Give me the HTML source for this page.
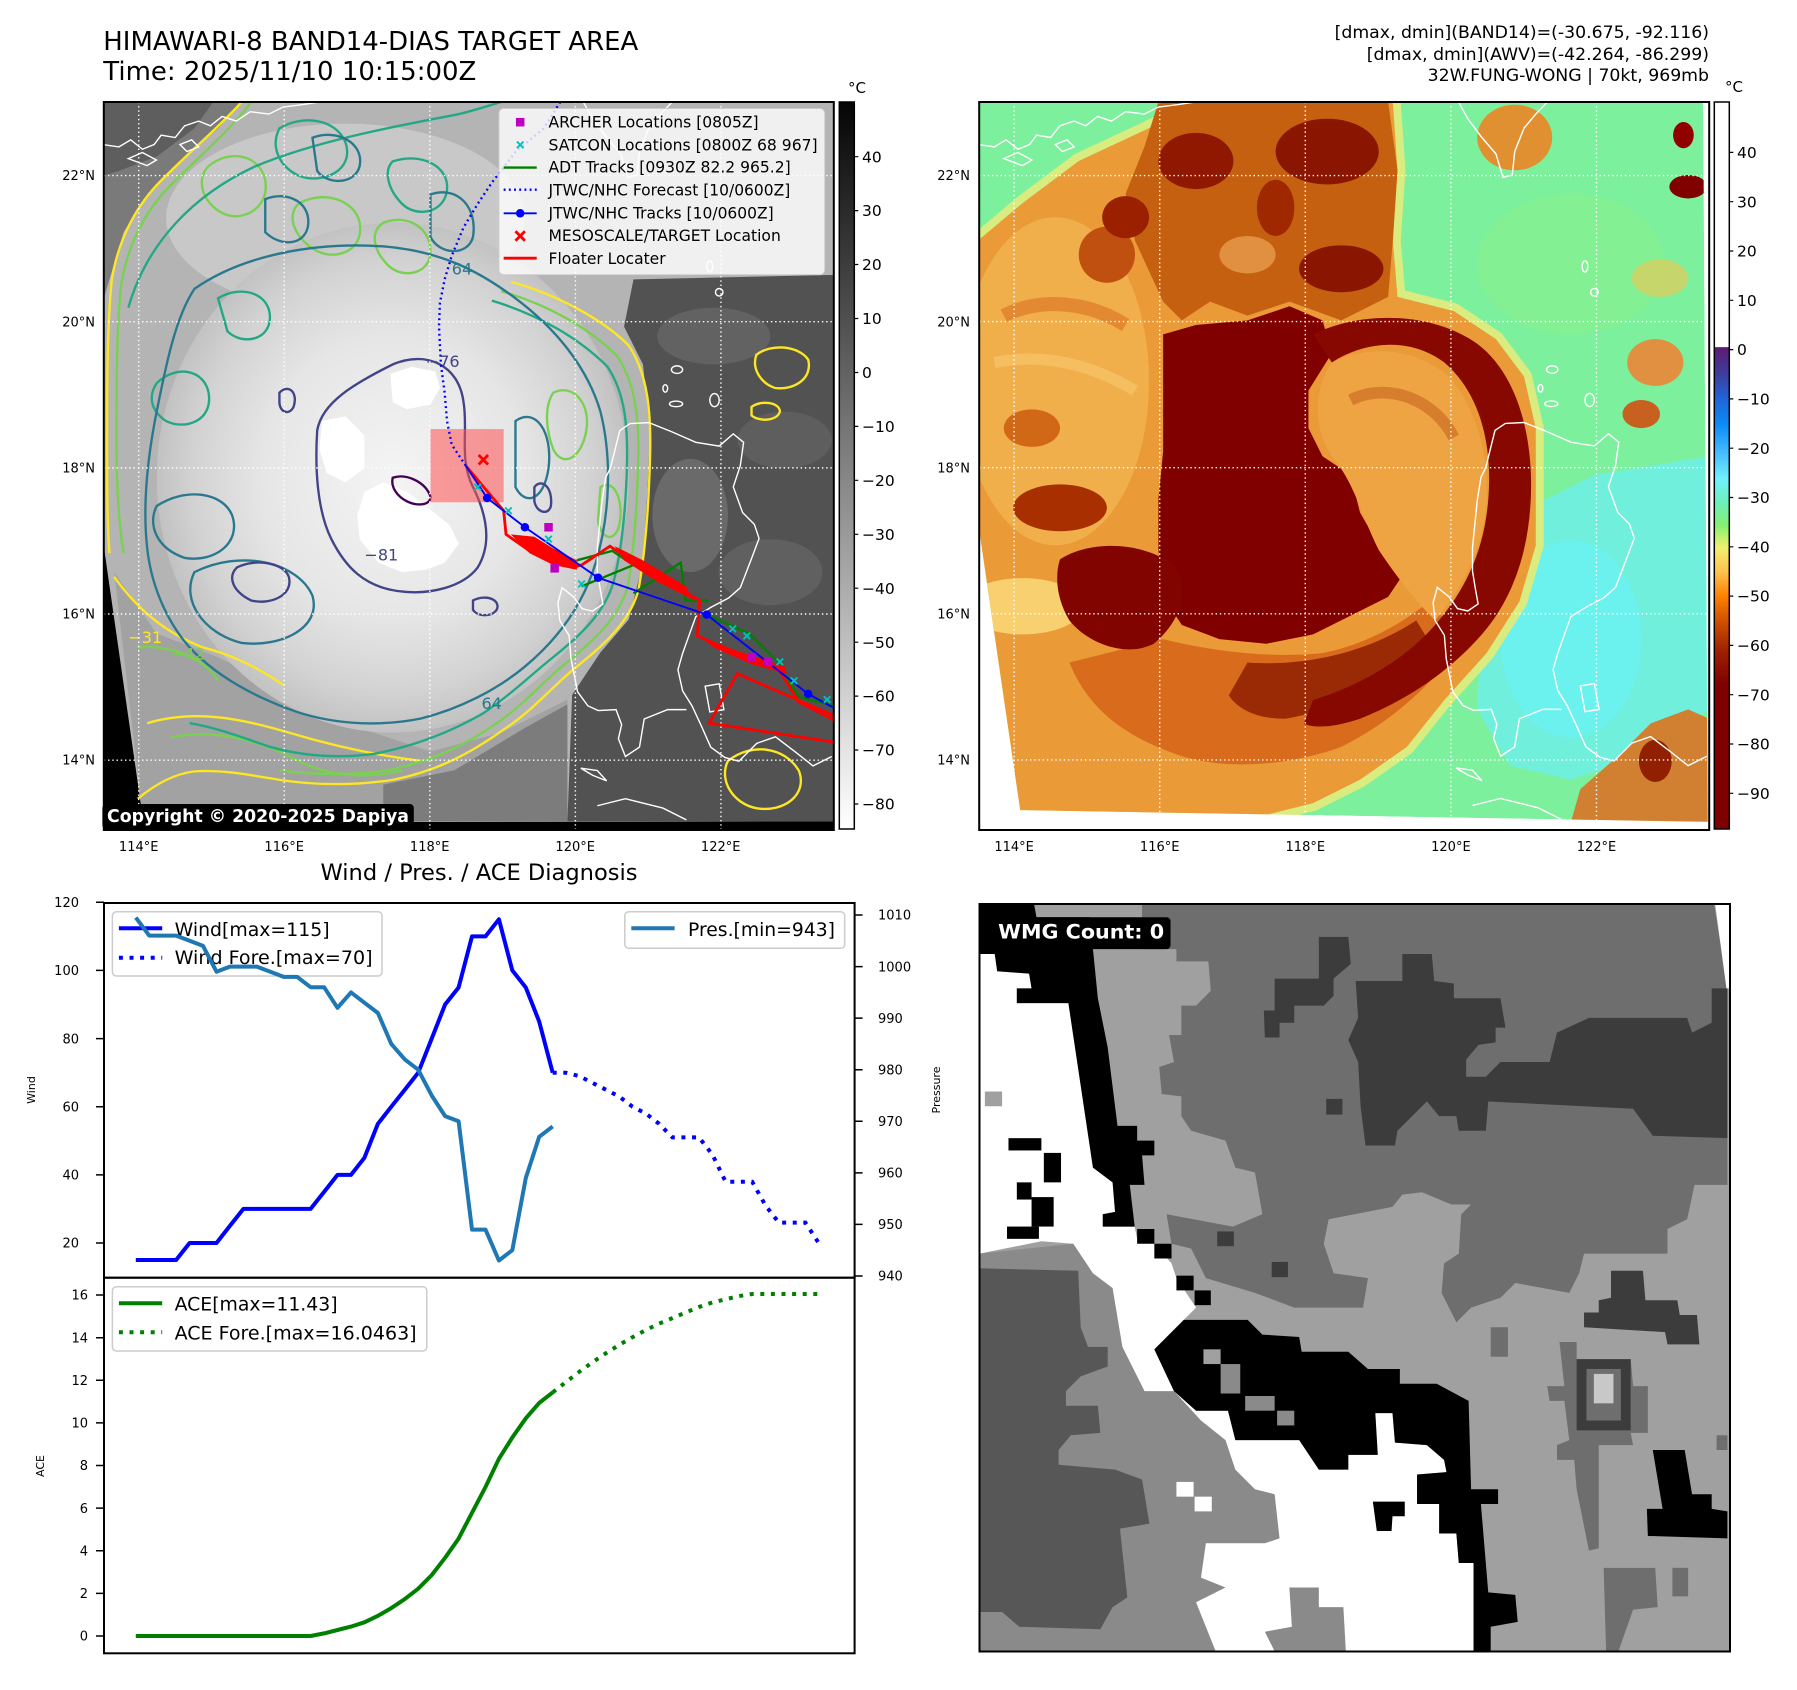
<!DOCTYPE html>
<html><head><meta charset="utf-8">
<style>
html,body{margin:0;padding:0;background:#fff;}
svg{display:block;}
text{font-family:"DejaVu Sans","Liberation Sans",sans-serif;}
</style></head><body>
<svg xmlns="http://www.w3.org/2000/svg" xmlns:xlink="http://www.w3.org/1999/xlink" width="1797" height="1690" viewBox="0 0 1797 1690">
<defs>
<linearGradient id="gL" x1="0" y1="0" x2="0" y2="1"><stop offset="0" stop-color="#050505"/><stop offset="1" stop-color="#ffffff"/></linearGradient>
<linearGradient id="gR" x1="0" y1="0" x2="0" y2="1">
<stop offset="0" stop-color="#ffffff"/><stop offset="0.337" stop-color="#ffffff"/>
<stop offset="0.3375" stop-color="#5e1a73"/><stop offset="0.3758" stop-color="#3b3f9f"/>
<stop offset="0.4096" stop-color="#1f66d9"/><stop offset="0.4434" stop-color="#0b8cf6"/>
<stop offset="0.4773" stop-color="#3fb5ff"/><stop offset="0.5179" stop-color="#70f0ff"/>
<stop offset="0.5516" stop-color="#6cf0b8"/><stop offset="0.5821" stop-color="#84f070"/>
<stop offset="0.6126" stop-color="#f0f070"/><stop offset="0.6464" stop-color="#ffc24f"/>
<stop offset="0.6802" stop-color="#ff8000"/><stop offset="0.7141" stop-color="#d05000"/>
<stop offset="0.7547" stop-color="#a02000"/><stop offset="0.8021" stop-color="#7f0000"/>
<stop offset="1" stop-color="#7f0000"/>
</linearGradient>
<radialGradient id="stormG" cx="0.5" cy="0.5" r="0.5">
<stop offset="0" stop-color="#f4f4f4"/><stop offset="0.55" stop-color="#e6e6e6"/><stop offset="0.85" stop-color="#d2d2d2"/><stop offset="1" stop-color="#c2c2c2"/>
</radialGradient>
<clipPath id="cTL"><rect x="8" y="4" width="1547" height="1543"/></clipPath>
<clipPath id="cTR"><rect x="-12.4" y="4.3" width="1557.4" height="1552.7"/></clipPath>
<clipPath id="cTRimg"><polygon points="-15,4 1532,4 1542,1540 75,1515 -15,900"/></clipPath>
<clipPath id="cBR"><rect x="-1" y="8" width="1528" height="1522"/></clipPath>
<g id="coast" fill="none" stroke="#ffffff" stroke-width="3">
<path d="M -15,95 L 20,100 L 45,85 L 70,105 L 95,95 L 110,75 L 140,80 L 160,55 L 190,45 L 215,55 L 240,35 L 270,45 L 300,25 L 340,30 L 370,15 L 410,10 L 450,4"/>
<path d="M 40,125 L 70,112 L 100,128 L 80,140 Z M 150,95 L 175,85 L 190,100 L 165,110 Z"/>
<path d="M 1010,4 L 1030,40 L 1060,80 L 1090,115 L 1105,165 L 1125,160 L 1130,110 L 1150,60 L 1175,30 L 1200,4"/>
<path d="M 1110,690 L 1150,688 L 1200,708 L 1250,730 L 1300,738 L 1330,712 L 1352,730 L 1345,780 L 1330,825 L 1350,880 L 1375,905 L 1385,935 L 1370,975 L 1345,1040 L 1320,1062 L 1282,1082 L 1250,1102 L 1238,1135 L 1222,1180 L 1212,1215 L 1222,1260 L 1242,1292 L 1262,1335 L 1282,1380 L 1312,1402 L 1342,1410 L 1380,1372 L 1420,1358 L 1462,1390 L 1500,1420 L 1540,1400"/>
<path d="M 1110,690 L 1088,705 L 1078,745 L 1068,785 L 1058,805 L 1050,855 L 1045,905 L 1040,955 L 1040,1005 L 1046,1042 L 1052,1075 L 1030,1090 L 1008,1085 L 990,1060 L 965,1040 L 956,1072 L 960,1110 L 980,1142 L 984,1192 L 998,1262 L 1020,1292 L 1042,1302 L 1080,1300 L 1092,1332 L 1085,1362 L 1100,1400 L 1130,1380 L 1140,1320 L 1190,1300 L 1230,1300"/>
<path d="M 1005,1425 L 1030,1440 L 1060,1452 L 1040,1430 Z M 1040,1505 L 1100,1490 L 1180,1510 L 1230,1535 M 1270,1250 L 1300,1245 L 1310,1300 L 1280,1305 Z"/>
<ellipse cx="1210" cy="575" rx="12" ry="8"/><ellipse cx="1208" cy="648" rx="14" ry="6"/><ellipse cx="1290" cy="640" rx="10" ry="14"/><ellipse cx="1280" cy="355" rx="6" ry="12"/><ellipse cx="1300" cy="410" rx="8" ry="8"/><ellipse cx="1185" cy="615" rx="5" ry="8"/>
</g>
</defs>

<!-- Titles -->
<text x="103.3" y="50" font-size="25.5" textLength="535" lengthAdjust="spacingAndGlyphs">HIMAWARI-8 BAND14-DIAS TARGET AREA</text>
<text x="103.3" y="80" font-size="25.5" textLength="373" lengthAdjust="spacingAndGlyphs">Time: 2025/11/10 10:15:00Z</text>
<text x="1709" y="38" font-size="17.3" text-anchor="end">[dmax, dmin](BAND14)=(-30.675, -92.116)</text>
<text x="1709" y="60" font-size="17.3" text-anchor="end">[dmax, dmin](AWV)=(-42.264, -86.299)</text>
<text x="1709" y="81" font-size="17.3" text-anchor="end">32W.FUNG-WONG | 70kt, 969mb</text>

<!-- ============ TOP-LEFT MAP ============ -->
<svg x="100" y="100" width="740.3" height="740.3" viewBox="0 0 1568 1568">
<g clip-path="url(#cTL)">
<rect x="0" y="0" width="1568" height="1568" fill="#000"/>
<polygon points="8,4 1560,4 1560,1528 92,1530 8,945" fill="#b4b4b4"/>
<polygon points="8,4 300,4 250,60 180,120 100,200 50,280 20,380 8,420" fill="#7a7a7a"/>
<polygon points="8,4 240,4 200,60 120,120 40,150 8,160" fill="#5e5e5e"/>
<ellipse cx="520" cy="250" rx="380" ry="200" fill="#c8c8c8"/>
<polygon points="30,1000 120,1130 250,1180 400,1260 550,1330 700,1380 850,1340 990,1270 990,1528 92,1530" fill="#a2a2a2"/>
<polygon points="600,1450 750,1420 900,1330 990,1280 990,1528 600,1528" fill="#7c7c7c"/>
<polygon points="1130,380 1568,370 1568,1528 990,1528 1000,1260 1060,1170 1120,1100 1150,980 1160,820 1165,700 1150,560 1110,480" fill="#525252"/>
<ellipse cx="1250" cy="880" rx="80" ry="120" fill="#6a6a6a"/>
<ellipse cx="1450" cy="720" rx="100" ry="60" fill="#5e5e5e"/>
<ellipse cx="1300" cy="500" rx="120" ry="60" fill="#626262"/>
<ellipse cx="1420" cy="1000" rx="110" ry="70" fill="#606060"/>
<ellipse cx="620" cy="800" rx="500" ry="540" fill="url(#stormG)"/>
<polygon points="560,830 600,810 650,830 690,860 740,900 760,940 730,980 690,995 640,1000 590,980 550,930 545,880" fill="#fff"/>
<polygon points="470,680 520,670 560,710 560,780 520,810 480,790 465,740" fill="#fff"/>
<polygon points="615,580 660,565 710,575 720,610 700,645 650,655 620,640" fill="#fff"/>
<!-- contours -->
<g fill="none" stroke-width="5">
<g stroke="#fde725">
<path d="M 870,385 C 960,410 1060,460 1120,520 C 1160,580 1168,660 1165,760 C 1162,860 1155,960 1140,1040 C 1120,1110 1060,1160 1010,1200 C 960,1240 920,1290 860,1330 C 790,1380 720,1420 620,1440 C 540,1452 460,1452 380,1440 C 320,1430 260,1418 200,1422 C 150,1428 110,1455 80,1480"/>
<path d="M 300,4 C 260,50 200,100 130,170 C 80,220 40,290 25,380 C 15,480 15,600 15,720 C 15,820 15,900 20,960"/>
<path d="M 30,1010 C 80,1080 140,1130 220,1160 C 280,1175 330,1200 390,1240"/>
<path d="M 100,1320 C 200,1290 300,1310 400,1340 C 500,1370 600,1390 680,1400"/>
<path d="M 1390,540 C 1420,515 1480,520 1500,550 C 1510,590 1470,615 1430,610 C 1400,600 1380,570 1390,540 Z M 1380,650 C 1400,635 1440,640 1440,660 C 1435,680 1395,682 1380,668 Z"/>
<path d="M 1330,1400 C 1380,1360 1450,1370 1480,1420 C 1500,1470 1450,1510 1390,1500 C 1340,1490 1310,1440 1330,1400 Z"/>
</g>
<g stroke="#7ad151">
<path d="M 850,405 C 945,432 1035,482 1095,542 C 1135,600 1142,680 1140,760 C 1138,860 1130,960 1118,1030 C 1098,1100 1040,1150 990,1190 C 940,1230 900,1280 840,1320 C 770,1370 700,1400 610,1420 C 530,1430 460,1430 380,1420"/>
<path d="M 320,4 C 280,60 220,110 150,180 C 100,230 60,300 45,390 C 35,480 35,600 35,720 C 35,820 40,900 50,960"/>
<path d="M 230,140 C 280,100 340,120 350,170 C 360,230 300,260 260,240 C 220,220 200,170 230,140 Z"/>
<path d="M 420,220 C 470,190 540,210 550,260 C 560,320 500,340 460,320 C 420,300 390,250 420,220 Z"/>
<path d="M 600,260 C 650,240 700,270 700,320 C 700,370 640,380 610,350 C 580,320 570,280 600,260 Z"/>
<path d="M 960,620 C 1000,600 1040,640 1030,700 C 1020,760 980,780 960,740 C 945,700 940,650 960,620 Z"/>
<path d="M 1060,820 C 1090,800 1110,850 1100,900 C 1090,940 1060,930 1055,890 Z"/>
<path d="M 80,1160 C 150,1150 230,1190 250,1230"/>
<path d="M 150,1350 C 250,1330 350,1360 420,1400 C 480,1430 560,1440 640,1420"/>
</g>
<g stroke="#22a884">
<path d="M 830,425 C 930,455 1015,505 1075,565 C 1115,625 1118,700 1116,780 C 1113,880 1103,960 1088,1020 C 1068,1090 1010,1140 960,1180 C 910,1220 870,1260 810,1300 C 740,1340 660,1370 580,1385 C 500,1395 430,1390 360,1370 C 300,1350 250,1330 190,1320"/>
<path d="M 60,440 C 100,300 200,200 330,140 C 450,90 600,60 760,30 C 800,20 830,10 850,4"/>
<path d="M 380,60 C 430,30 500,40 520,90 C 540,150 470,180 420,160 C 380,140 360,100 380,60 Z"/>
<path d="M 120,600 C 160,560 220,570 230,620 C 240,680 180,700 140,680 C 110,660 100,630 120,600 Z"/>
<path d="M 250,420 C 300,390 360,410 360,460 C 360,510 300,520 270,490 Z"/>
<path d="M 620,130 C 680,110 740,140 735,190 C 730,240 670,250 640,220 C 610,190 600,150 620,130 Z"/>
</g>
<g stroke="#2a788e">
<path d="M 200,400 C 300,330 450,300 600,310 C 720,320 800,360 880,420 C 960,480 1030,560 1060,660 C 1085,760 1080,880 1050,980 C 1020,1080 960,1150 900,1200 C 840,1250 760,1290 680,1310 C 580,1330 480,1320 400,1290 C 320,1260 250,1220 200,1170 C 150,1120 110,1040 100,950 C 90,860 100,760 120,660 C 140,560 160,460 200,400 Z"/>
<path d="M 350,210 C 400,190 450,220 440,270 C 430,310 380,310 350,280 Z M 450,80 C 500,60 560,90 550,140 C 540,180 480,180 460,150 Z"/>
<path d="M 120,860 C 180,820 260,830 280,880 C 300,940 240,980 180,970 C 120,950 100,900 120,860 Z"/>
<path d="M 200,1000 C 300,950 420,980 450,1050 C 470,1120 380,1160 300,1150 C 220,1130 170,1060 200,1000 Z"/>
<path d="M 700,200 C 760,180 800,230 790,290 C 780,330 720,330 700,290 Z M 880,680 C 920,650 960,700 950,780 C 940,850 900,860 880,820 Z"/>
</g>
<g stroke="#414487">
<path d="M 460,700 C 470,640 540,600 620,560 C 690,530 760,560 770,640 C 780,700 760,760 790,820 C 820,880 830,940 800,990 C 770,1030 700,1050 630,1040 C 560,1030 520,990 490,930 C 460,870 455,780 460,700 Z"/>
<path d="M 290,990 C 330,970 390,980 400,1010 C 410,1050 360,1070 320,1060 C 280,1040 270,1010 290,990 Z M 790,1060 C 820,1045 850,1060 840,1080 C 830,1095 800,1095 790,1080 Z M 920,820 C 935,800 960,820 955,860 C 950,880 925,875 920,850 Z M 380,620 C 400,600 420,620 410,650 C 400,670 380,660 380,640 Z"/>
</g>
<g stroke="#440154">
<path d="M 620,800 C 650,790 690,810 700,840 C 700,860 670,860 650,850 C 630,840 615,820 620,800 Z"/>
</g>
</g>
<g font-size="34">
<text x="745" y="370" fill="#2a788e">64</text>
<text x="808" y="1290" fill="#2a788e">64</text>
<text x="560" y="975" fill="#414487">−81</text>
<text x="690" y="565" fill="#414487">−76</text>
<text x="60" y="1150" fill="#fde725">−31</text>
<text x="150" y="1185" fill="#7ad151">−42</text>
</g>
<use xlink:href="#coast" href="#coast" transform="matrix(0.99324 0 0 0.99324 20.3 0)"/>
<!-- grid -->
<g stroke="#fff" stroke-width="3" stroke-dasharray="3 6" fill="none">
<path d="M82,4 V1547 M390.3,4 V1547 M698.6,4 V1547 M1006.9,4 V1547 M1315.2,4 V1547"/>
<path d="M8,160 H1555 M8,469.6 H1555 M8,779.2 H1555 M8,1088.7 H1555 M8,1398.3 H1555"/>
</g>
<!-- tracks -->
<rect x="700" y="697" width="155" height="155" fill="#ff5050" fill-opacity="0.55"/>
<polyline points="975,4 940,60 880,110 830,175 800,220 770,270 745,330 730,380 720,430 718,480 720,520 722,560 730,620 735,680 745,730 775,775" fill="none" stroke="#0000ff" stroke-width="5" stroke-dasharray="4 7"/>
<g fill="none" stroke="#008000" stroke-width="5">
<path d="M1010,975 L1085,955 L1130,985 L1020,1030 M1130,1045 L1230,980 L1240,1060 L1290,1060 M1285,1090 L1375,1130 L1435,1190 L1480,1265 L1568,1285"/>
</g>
<g fill="#ff0000" stroke="none">
<polygon points="870,920 920,925 960,950 1010,975 1010,995 960,985 910,960"/>
<polygon points="1090,945 1150,975 1240,1030 1260,1060 1180,1020 1110,975"/>
<polygon points="1270,1135 1330,1160 1450,1200 1455,1215 1380,1195 1300,1160"/>
</g>
<g fill="none" stroke="#ff0000" stroke-width="6">
<polyline points="775,775 855,870 860,920 910,955 1000,990 1020,985 1080,945 1140,985 1270,1060 1265,1135 1370,1180 1440,1210 1480,1275 1568,1320"/>
<path d="M1568,1362 L1290,1320 L1350,1215 L1568,1310"/>
</g>
<polyline points="775,775 820,843 900,905 1055,1012 1285,1090 1500,1258 1568,1295" fill="none" stroke="#0000ff" stroke-width="4"/>
<g fill="#0000ff"><circle cx="820" cy="843" r="9"/><circle cx="900" cy="905" r="9"/><circle cx="1055" cy="1012" r="9"/><circle cx="1285" cy="1090" r="9"/><circle cx="1500" cy="1258" r="9"/></g>
<g stroke="#00c0c0" stroke-width="4">
<path d="M793,813 l14,14 m0,-14 l-14,14 M858,863 l14,14 m0,-14 l-14,14 M943,923 l14,14 m0,-14 l-14,14 M1013,1018 l14,14 m0,-14 l-14,14 M1333,1113 l14,14 m0,-14 l-14,14 M1363,1128 l14,14 m0,-14 l-14,14 M1433,1183 l14,14 m0,-14 l-14,14 M1463,1223 l14,14 m0,-14 l-14,14 M1533,1263 l14,14 m0,-14 l-14,14"/>
</g>
<g fill="#c000c0"><rect x="941" y="896" width="18" height="18"/><rect x="954" y="983" width="18" height="18"/><rect x="1371" y="1171" width="18" height="18"/><rect x="1406" y="1181" width="18" height="18"/></g>
<path d="M802,752 l20,20 m0,-20 l-20,20" stroke="#ff0000" stroke-width="6"/>
<!-- legend -->
<rect x="845" y="18" width="690" height="352" rx="10" fill="#ffffff" fill-opacity="0.8" stroke="#cccccc" stroke-width="2"/>
<rect x="881" y="38" width="18" height="18" fill="#c000c0"/>
<path d="M883,88 l14,14 m0,-14 l-14,14" stroke="#00c0c0" stroke-width="4"/>
<line x1="855" y1="143" x2="925" y2="143" stroke="#008000" stroke-width="5"/>
<line x1="855" y1="190" x2="925" y2="190" stroke="#0000ff" stroke-width="5" stroke-dasharray="4 7"/>
<line x1="855" y1="240" x2="925" y2="240" stroke="#0000ff" stroke-width="4"/><circle cx="890" cy="240" r="9" fill="#0000ff"/>
<path d="M880,278 l20,20 m0,-20 l-20,20" stroke="#ff0000" stroke-width="6"/>
<line x1="855" y1="335" x2="925" y2="335" stroke="#ff0000" stroke-width="6"/>
<g font-size="34" fill="#000">
<text x="950" y="58" textLength="445" lengthAdjust="spacingAndGlyphs">ARCHER Locations [0805Z]</text>
<text x="950" y="107" textLength="570" lengthAdjust="spacingAndGlyphs">SATCON Locations [0800Z 68 967]</text>
<text x="950" y="154" textLength="513" lengthAdjust="spacingAndGlyphs">ADT Tracks [0930Z 82.2 965.2]</text>
<text x="950" y="202" textLength="512" lengthAdjust="spacingAndGlyphs">JTWC/NHC Forecast [10/0600Z]</text>
<text x="950" y="251" textLength="477" lengthAdjust="spacingAndGlyphs">JTWC/NHC Tracks [10/0600Z]</text>
<text x="950" y="299" textLength="492" lengthAdjust="spacingAndGlyphs">MESOSCALE/TARGET Location</text>
<text x="950" y="347" textLength="248" lengthAdjust="spacingAndGlyphs">Floater Locater</text>
</g>
</g>
</svg>
<rect x="103.8" y="102" width="730" height="728" fill="none" stroke="#000" stroke-width="2"/>
<rect x="102.4" y="804" width="311.4" height="25.5" rx="4" fill="#000"/>
<text x="107" y="822" font-size="18" font-weight="bold" fill="#fff" textLength="302" lengthAdjust="spacingAndGlyphs">Copyright © 2020-2025 Dapiya</text>

<!-- left colorbar -->
<rect x="839.3" y="102" width="15" height="727" fill="url(#gL)" stroke="#000" stroke-width="1.5"/>
<text x="848" y="93" font-size="15">°C</text>
<g stroke="#000" stroke-width="1.2">
<path d="M854.3,156.7 h4 M854.3,210.6 h4 M854.3,264.5 h4 M854.3,318.5 h4 M854.3,372.5 h4 M854.3,426.4 h4 M854.3,480.3 h4 M854.3,534.3 h4 M854.3,588.2 h4 M854.3,642.2 h4 M854.3,696.1 h4 M854.3,750 h4 M854.3,804 h4"/>
</g>
<g font-size="15.5">
<text x="862" y="162.3">40</text><text x="862" y="216.2">30</text><text x="862" y="270.1">20</text><text x="862" y="324.1">10</text><text x="862" y="378.1">0</text>
<text x="862" y="432">−10</text><text x="862" y="485.9">−20</text><text x="862" y="539.9">−30</text><text x="862" y="593.8">−40</text><text x="862" y="647.8">−50</text>
<text x="862" y="701.7">−60</text><text x="862" y="755.6">−70</text><text x="862" y="809.6">−80</text>
</g>

<!-- map axis labels -->
<g font-size="13" text-anchor="end">
<text x="95" y="180.2">22°N</text><text x="95" y="326.3">20°N</text><text x="95" y="472.4">18°N</text><text x="95" y="618.5">16°N</text><text x="95" y="764.6">14°N</text>
<text x="970" y="180.2">22°N</text><text x="970" y="326.3">20°N</text><text x="970" y="472.4">18°N</text><text x="970" y="618.5">16°N</text><text x="970" y="764.6">14°N</text>
</g>
<g font-size="13" text-anchor="middle">
<text x="138.7" y="851">114°E</text><text x="284.2" y="851">116°E</text><text x="429.7" y="851">118°E</text><text x="575.2" y="851">120°E</text><text x="720.7" y="851">122°E</text>
<text x="1014.1" y="851">114°E</text><text x="1159.7" y="851">116°E</text><text x="1305.3" y="851">118°E</text><text x="1450.9" y="851">120°E</text><text x="1596.5" y="851">122°E</text>
</g>

<!-- ============ TOP-RIGHT MAP ============ -->
<svg x="985" y="100" width="735" height="735" viewBox="0 0 1568 1568" overflow="visible">
<g clip-path="url(#cTR)">
<rect x="-20" y="0" width="1600" height="1570" fill="#fff"/>
<g clip-path="url(#cTRimg)">
<polygon points="-15,4 1532,4 1542,1540 75,1515 -15,900" fill="#7cf09c"/>
<polygon points="1100,900 1300,800 1545,760 1545,1300 1400,1400 1250,1450 1120,1420 1050,1300 1060,1100" fill="#70f0dc"/>
<ellipse cx="1250" cy="1150" rx="150" ry="210" fill="#6cf2f2" fill-opacity="0.8"/>
<ellipse cx="1250" cy="350" rx="200" ry="150" fill="#88f090" fill-opacity="0.6"/>
<path d="M -15,300 L 80,220 L 200,130 L 350,60 L 460,4 L 870,4 L 880,150 L 870,300 L 880,420 L 1000,450 L 1090,510 L 1150,590 L 1175,700 L 1175,950 L 1140,1070 L 1070,1180 L 980,1280 L 900,1380 L 800,1450 L 700,1500 L 600,1525 L 75,1515 L -15,900 Z" fill="#eb9a38" stroke="#d8ec80" stroke-width="34" stroke-linejoin="round" paint-order="stroke"/>
<ellipse cx="150" cy="600" rx="200" ry="350" fill="#f3b450" fill-opacity="0.8"/>
<ellipse cx="80" cy="1080" rx="130" ry="60" fill="#f8d070"/>
<ellipse cx="160" cy="870" rx="100" ry="50" fill="#a83000"/>
<ellipse cx="260" cy="330" rx="60" ry="60" fill="#c05010"/>
<ellipse cx="100" cy="700" rx="60" ry="40" fill="#d06818"/>
<path d="M 40,460 C 120,420 220,430 300,480" fill="none" stroke="#d87020" stroke-width="30" stroke-opacity="0.6"/>
<path d="M 20,560 C 120,540 220,560 320,620" fill="none" stroke="#f8c870" stroke-width="24" stroke-opacity="0.6"/>
<path d="M 380,1150 C 500,1180 620,1190 720,1180 C 820,1160 900,1110 960,1060 L 1000,1180 C 940,1260 860,1330 760,1380 C 650,1420 520,1430 420,1400 C 300,1360 220,1300 180,1200 Z" fill="#d86c1c"/>
<path d="M 560,1200 C 700,1210 830,1170 920,1110 L 950,1160 C 870,1240 760,1300 640,1320 C 580,1320 540,1300 520,1270 Z" fill="#9a2a05"/>
<polygon points="370,4 860,4 880,150 870,300 860,420 760,470 650,430 560,460 480,430 420,470 380,430 320,300 300,200 340,100" fill="#c4600f"/>
<ellipse cx="450" cy="130" rx="80" ry="60" fill="#901800"/>
<ellipse cx="730" cy="110" rx="110" ry="70" fill="#8a1500"/>
<ellipse cx="300" cy="250" rx="50" ry="45" fill="#9a2000"/>
<ellipse cx="760" cy="360" rx="90" ry="50" fill="#8a1500"/>
<ellipse cx="620" cy="230" rx="40" ry="60" fill="#a02800"/>
<ellipse cx="560" cy="330" rx="60" ry="40" fill="#e09040"/>
<polygon points="380,500 450,480 560,470 650,440 720,470 740,540 690,620 690,700 720,760 780,800 800,880 840,950 900,1000 860,1060 780,1100 700,1140 600,1160 500,1150 420,1120 380,1060 370,960 370,850 380,750 380,620" fill="#800000"/>
<path d="M 700,500 C 800,450 950,450 1050,520 C 1130,580 1165,700 1165,820 C 1165,950 1130,1060 1060,1140 C 990,1220 900,1280 800,1320 C 740,1340 700,1340 680,1330 L 700,1280 C 800,1250 900,1190 960,1120 C 1030,1040 1070,950 1075,830 C 1080,720 1050,620 980,560 C 900,500 800,520 740,560 Z" fill="#860800"/>
<path d="M 740,560 C 820,520 920,530 990,590 C 1050,660 1075,760 1070,860 C 1060,960 1020,1040 960,1110 C 920,1070 880,1020 840,960 C 800,880 790,820 740,760 C 700,700 700,620 740,560 Z" fill="#efa444"/>
<path d="M 780,640 C 860,600 960,640 1000,720" fill="none" stroke="#c05818" stroke-width="25" stroke-opacity="0.5"/>
<path d="M 160,980 C 220,940 330,940 400,990 C 440,1040 420,1110 360,1160 C 300,1190 220,1160 180,1110 C 150,1060 150,1010 160,980 Z" fill="#820400"/>
<polygon points="1250,1540 1270,1470 1350,1400 1420,1330 1500,1300 1545,1320 1545,1540" fill="#d08030"/>
<ellipse cx="1430" cy="1410" rx="35" ry="45" fill="#902000"/>
<ellipse cx="1500" cy="185" rx="40" ry="25" fill="#800000"/>
<ellipse cx="1490" cy="75" rx="22" ry="28" fill="#900000"/>
<ellipse cx="1430" cy="560" rx="60" ry="50" fill="#e09040"/>
<ellipse cx="1400" cy="670" rx="40" ry="30" fill="#c86020"/>
<ellipse cx="1130" cy="80" rx="80" ry="70" fill="#e09030"/>
<ellipse cx="1440" cy="380" rx="60" ry="40" fill="#d8d060" fill-opacity="0.8"/>
</g>
<use xlink:href="#coast" href="#coast"/>
<g stroke="#fff" stroke-width="3" stroke-dasharray="3 6" fill="none">
<path d="M62.1,4 V1557 M372.7,4 V1557 M683.3,4 V1557 M993.9,4 V1557 M1304.5,4 V1557"/>
<path d="M-12,161.1 H1545 M-12,472.7 H1545 M-12,784.4 H1545 M-12,1096.1 H1545 M-12,1407.8 H1545"/>
</g>
</g>
</svg>
<rect x="979.2" y="102" width="730" height="728" fill="none" stroke="#000" stroke-width="2"/>

<!-- right colorbar -->
<rect x="1714.3" y="102" width="15" height="727" fill="url(#gR)" stroke="#000" stroke-width="1.5"/>
<text x="1725" y="92" font-size="15">°C</text>
<g stroke="#000" stroke-width="1.2">
<path d="M1729.3,152.4 h4 M1729.3,201.7 h4 M1729.3,251 h4 M1729.3,300.3 h4 M1729.3,349.6 h4 M1729.3,398.9 h4 M1729.3,448.2 h4 M1729.3,497.5 h4 M1729.3,546.8 h4 M1729.3,596.1 h4 M1729.3,645.4 h4 M1729.3,694.7 h4 M1729.3,744 h4 M1729.3,793.3 h4"/>
</g>
<g font-size="15.5">
<text x="1737" y="158">40</text><text x="1737" y="207.3">30</text><text x="1737" y="256.6">20</text><text x="1737" y="305.9">10</text><text x="1737" y="355.2">0</text>
<text x="1737" y="404.5">−10</text><text x="1737" y="453.8">−20</text><text x="1737" y="503.1">−30</text><text x="1737" y="552.4">−40</text><text x="1737" y="601.7">−50</text>
<text x="1737" y="651">−60</text><text x="1737" y="700.3">−70</text><text x="1737" y="749.6">−80</text><text x="1737" y="798.9">−90</text>
</g>

<!-- ============ BOTTOM-LEFT PLOTS ============ -->
<text x="479" y="880" font-size="22" text-anchor="middle" textLength="317" lengthAdjust="spacingAndGlyphs">Wind / Pres. / ACE Diagnosis</text>
<polyline fill="none" stroke="#0000ff" stroke-width="4" stroke-linejoin="round" points="135.8,1260 149.2,1260 162.7,1260 176.1,1260 189.6,1243 203,1243 216.5,1243 229.9,1225.9 243.4,1208.9 256.8,1208.9 270.3,1208.9 283.7,1208.9 297.2,1208.9 310.6,1208.9 324.1,1191.9 337.5,1174.9 351,1174.9 364.4,1157.8 377.9,1123.8 391.3,1106.7 404.8,1089.7 418.2,1072.7 431.7,1038.6 445.1,1004.5 458.6,987.5 472,936.4 485.5,936.4 498.9,919.3 512.3,970.4 525.8,987.5 539.2,1021.6 552.7,1072.7"/>
<polyline fill="none" stroke="#0000ff" stroke-width="4" stroke-dasharray="4 6.6" points="552.7,1072.7 566,1072.7 579.3,1076.1 592.6,1082.9 605.9,1089.7 619.2,1096.5 632.5,1106.7 645.8,1113.5 659.1,1123.8 672.4,1137.4 685.7,1137.4 699,1137.4 712.3,1154.4 725.6,1181.7 738.9,1181.7 752.2,1181.7 765.5,1205.5 778.8,1222.6 792.1,1222.6 805.4,1222.6 818.7,1243"/>
<rect x="112.4" y="911.7" width="269.6" height="64.3" rx="4" fill="#fff" fill-opacity="0.8" stroke="#cccccc" stroke-width="1.5"/>
<line x1="118.9" y1="928.3" x2="162.2" y2="928.3" stroke="#0000ff" stroke-width="4"/>
<line x1="118.9" y1="957.7" x2="162.2" y2="957.7" stroke="#0000ff" stroke-width="4" stroke-dasharray="4 6.6"/>
<text x="174.6" y="936" font-size="19" textLength="155" lengthAdjust="spacingAndGlyphs">Wind[max=115]</text>
<text x="174.6" y="964" font-size="19" textLength="198" lengthAdjust="spacingAndGlyphs">Wind Fore.[max=70]</text>
<polyline fill="none" stroke="#1f77b4" stroke-width="4" stroke-linejoin="round" points="135.8,917.6 149.2,935.6 162.7,935.6 176.1,935.6 189.6,940.8 203,945.9 216.5,971.7 229.9,966.6 243.4,966.6 256.8,966.6 270.3,971.7 283.7,976.9 297.2,976.9 310.6,987.2 324.1,987.2 337.5,1007.8 351,992.4 364.4,1002.7 377.9,1013 391.3,1043.9 404.8,1059.4 418.2,1069.7 431.7,1095.5 445.1,1116.1 458.6,1121.3 472,1229.6 485.5,1229.6 498.9,1260.5 512.3,1250.2 525.8,1178 539.2,1136.8 552.7,1126.4"/>
<rect x="624.8" y="911.7" width="219.9" height="36.6" rx="4" fill="#fff" fill-opacity="0.8" stroke="#cccccc" stroke-width="1.5"/>
<line x1="631.3" y1="928.3" x2="674.6" y2="928.3" stroke="#1f77b4" stroke-width="4"/>
<text x="688" y="936" font-size="19" textLength="147" lengthAdjust="spacingAndGlyphs">Pres.[min=943]</text>
<polyline fill="none" stroke="#008000" stroke-width="4" stroke-linejoin="round" points="135.8,1636 310.6,1636 324.1,1633.4 337.5,1630 351,1626.6 364.4,1622.3 377.9,1615.8 391.3,1608.1 404.8,1599.1 418.2,1588.7 431.7,1575.1 445.1,1557.8 458.6,1538.6 472,1512.8 485.5,1487 498.9,1458.8 512.3,1437.5 525.8,1418.3 539.2,1402.9 552.7,1392.4"/>
<polyline fill="none" stroke="#008000" stroke-width="4" stroke-dasharray="4 6.6" points="552.7,1392.4 566,1382 579.3,1371.8 592.6,1362.2 605.9,1353.2 619.2,1344.9 632.5,1337.2 645.8,1330 659.1,1323.6 672.4,1318.1 685.7,1312.5 699,1307 712.3,1302.5 725.6,1299.3 738.9,1296.1 752.2,1294 765.5,1294 778.8,1294 792.1,1294 805.4,1294 818.7,1294"/>
<rect x="112.4" y="1286.7" width="314.4" height="64.3" rx="4" fill="#fff" fill-opacity="0.8" stroke="#cccccc" stroke-width="1.5"/>
<line x1="118.9" y1="1303.3" x2="162.2" y2="1303.3" stroke="#008000" stroke-width="4"/>
<line x1="118.9" y1="1332.3" x2="162.2" y2="1332.3" stroke="#008000" stroke-width="4" stroke-dasharray="4 6.6"/>
<text x="174.6" y="1310.7" font-size="19" textLength="163" lengthAdjust="spacingAndGlyphs">ACE[max=11.43]</text>
<text x="174.6" y="1339.3" font-size="19" textLength="242" lengthAdjust="spacingAndGlyphs">ACE Fore.[max=16.0463]</text>
<rect x="104" y="903" width="750.6" height="374.7" fill="none" stroke="#000" stroke-width="2"/>
<rect x="104" y="1277.7" width="750.6" height="375.6" fill="none" stroke="#000" stroke-width="2"/>
<g stroke="#000" stroke-width="1.5">
<path d="M96,902.3 h8 M96,970.4 h8 M96,1038.6 h8 M96,1106.7 h8 M96,1174.9 h8 M96,1243 h8"/>
<path d="M854.6,915 h8 M854.6,966.6 h8 M854.6,1018.1 h8 M854.6,1069.7 h8 M854.6,1121.3 h8 M854.6,1172.9 h8 M854.6,1224.4 h8 M854.6,1276 h8"/>
<path d="M96,1295 h8 M96,1337.7 h8 M96,1380.3 h8 M96,1422.9 h8 M96,1465.5 h8 M96,1508.1 h8 M96,1550.8 h8 M96,1593.4 h8 M96,1636 h8"/>
</g>
<g font-size="13" text-anchor="end">
<text x="79" y="907">120</text><text x="79" y="975.1">100</text><text x="79" y="1043.3">80</text><text x="79" y="1111.4">60</text><text x="79" y="1179.6">40</text><text x="79" y="1247.7">20</text>
<text x="88" y="1299.7">16</text><text x="88" y="1342.4">14</text><text x="88" y="1385">12</text><text x="88" y="1427.6">10</text><text x="88" y="1470.2">8</text><text x="88" y="1512.8">6</text><text x="88" y="1555.5">4</text><text x="88" y="1598.1">2</text><text x="88" y="1640.7">0</text>
</g>
<g font-size="13">
<text x="878" y="919.7">1010</text><text x="878" y="971.3">1000</text><text x="878" y="1022.8">990</text><text x="878" y="1074.4">980</text><text x="878" y="1126">970</text><text x="878" y="1177.6">960</text><text x="878" y="1229.1">950</text><text x="878" y="1280.7">940</text>
</g>
<g font-size="11" text-anchor="middle">
<text x="35" y="1090" transform="rotate(-90 35 1090)">Wind</text>
<text x="940" y="1090" transform="rotate(-90 940 1090)">Pressure</text>
<text x="44" y="1466" transform="rotate(-90 44 1466)">ACE</text>
</g>

<!-- ============ BOTTOM-RIGHT ============ -->
<svg x="980" y="900" width="770" height="770" viewBox="0 0 1568 1568" overflow="visible">
<g clip-path="url(#cBR)">
<rect x="-1" y="8" width="1528" height="1522" fill="#a0a0a0"/>
<polygon fill="#6e6e6e" points="330,8 1495,8 1522,180 1522,580 1455,580 1440,650 1400,670 1400,720 1230,720 1220,760 1200,800 1090,780 1060,810 1000,830 970,860 940,800 945,740 975,720 980,640 1000,620 960,620 900,595 860,600 840,625 710,650 700,700 720,760 790,770 780,830 640,830 560,800 460,770 430,710 390,700 380,640 515,665 575,640 560,555 520,545 500,490 430,470 410,440 410,400 370,395 365,340 395,330 385,275 410,275 410,215 440,215 470,185 465,125 400,125 400,100 330,100"/>
<g fill="#3c3c3c">
<polygon points="600,160 690,160 690,75 750,75 755,130 720,160 720,195 700,215 640,215 640,250 610,250 610,280 580,280 578,225 600,225"/>
<polygon points="765,165 860,165 860,110 920,110 925,165 965,170 965,200 1060,200 1070,260 1050,260 1050,290 1015,295 990,325 990,360 1030,360 1035,410 1030,470 975,470 970,440 935,440 910,410 880,440 850,470 845,500 785,500 775,420 770,330 750,285 770,240"/>
<polygon points="1030,360 1060,330 1160,330 1175,270 1240,240 1440,240 1450,270 1490,250 1490,180 1522,180 1522,485 1370,480 1330,425 1030,410"/>
<rect x="705" y="405" width="33" height="32"/><rect x="483" y="675" width="34" height="30"/><rect x="594" y="737" width="33" height="31"/>
<polygon points="1285,755 1350,755 1355,815 1420,815 1425,845 1460,845 1465,905 1400,905 1395,880 1230,870 1230,840 1260,840 1260,815 1285,810"/>
</g>
<polygon fill="#8a8a8a" points="-1,720 190,700 230,760 270,790 290,910 335,1000 400,1000 440,1040 495,1040 500,1100 520,1160 560,1200 600,1210 610,1300 580,1310 460,1310 450,1380 500,1400 440,1430 480,1530 -1,1530"/>
<polygon fill="#575757" points="-1,750 200,755 205,870 220,910 260,910 260,950 205,970 175,1000 175,1030 240,1030 245,1085 185,1090 160,1120 160,1150 275,1160 330,1180 345,1270 285,1280 300,1420 270,1440 245,1485 80,1480 45,1450 -1,1450"/>
<polygon fill="#8a8a8a" points="630,1400 690,1400 690,1440 740,1440 745,1530 600,1530 580,1490 635,1480"/>
<g fill="#ffffff">
<polygon points="-1,110 30,110 35,145 100,150 105,180 75,180 75,210 180,210 230,545 270,575 275,635 250,640 250,665 315,665 320,690 355,700 390,740 400,770 440,830 415,855 385,885 355,915 395,1000 335,1000 290,910 270,790 230,760 190,700 125,695 -1,720"/>
<polygon points="395,1000 440,1040 505,1040 520,1100 650,1100 690,1160 750,1160 750,1130 810,1130 805,1045 840,1045 845,1105 910,1110 945,1140 950,1165 890,1170 890,1230 935,1230 935,1290 970,1290 975,1350 1005,1350 1005,1530 745,1530 740,1440 690,1440 690,1400 630,1400 635,1480 580,1490 600,1530 480,1530 440,1430 500,1400 450,1380 460,1310 580,1310 610,1300 600,1210 560,1200 520,1160 500,1100 450,1060"/>
<rect x="400" y="1185" width="35" height="30"/><rect x="437" y="1215" width="35" height="30"/>
<polygon points="1497,8 1530,8 1530,180 1520,180"/>
</g>
<rect x="10" y="390" width="35" height="30" fill="#a0a0a0"/>
<g fill="#000000">
<polygon points="-1,8 110,8 115,35 225,35 230,100 240,200 260,300 280,460 320,460 320,490 355,490 355,520 330,520 335,580 305,580 315,665 250,665 250,640 275,635 270,575 230,545 180,210 75,210 75,180 105,180 100,150 35,145 30,110 -1,110"/>
<rect x="320" y="670" width="35" height="30"/><rect x="355" y="700" width="35" height="30"/><rect x="400" y="765" width="35" height="30"/><rect x="437" y="795" width="33" height="30"/>
<rect x="58" y="485" width="67" height="25"/><rect x="130" y="515" width="35" height="60"/><rect x="75" y="575" width="30" height="35"/><rect x="105" y="605" width="45" height="60"/><rect x="55" y="665" width="65" height="25"/>
<polygon points="355,915 385,885 415,855 545,855 575,885 650,890 655,920 750,920 790,955 855,955 855,985 930,985 995,1020 1000,1200 1055,1200 1055,1230 1020,1230 1035,1410 1090,1415 1095,1470 1040,1480 1040,1530 1005,1530 1005,1350 975,1350 970,1290 935,1290 935,1230 890,1230 890,1170 950,1165 945,1140 910,1110 845,1105 840,1045 805,1045 810,1130 750,1130 750,1160 690,1160 650,1100 520,1100 505,1040 440,1040 395,1000"/>
<polygon points="800,1225 865,1225 865,1255 840,1255 838,1285 808,1285"/>
</g>
<rect x="455" y="915" width="35" height="30" fill="#a0a0a0"/>
<rect x="490" y="945" width="40" height="60" fill="#8a8a8a"/>
<rect x="540" y="1010" width="60" height="30" fill="#8a8a8a"/>
<rect x="605" y="1040" width="35" height="30" fill="#8a8a8a"/>
<g fill="#6e6e6e">
<polygon points="1180,900 1215,900 1215,935 1325,935 1330,990 1360,990 1360,1085 1325,1085 1330,1110 1260,1110 1260,1320 1240,1325 1215,1200 1210,1140 1175,1140 1175,1110 1200,1100 1190,1020 1160,1020 1155,990 1190,990"/>
<polygon points="1270,1360 1375,1360 1380,1440 1330,1445 1300,1530 1275,1530"/>
<rect x="1410" y="1360" width="32" height="58"/><rect x="1040" y="870" width="35" height="60"/><rect x="1500" y="1090" width="22" height="30"/>
</g>
<rect x="1215" y="935" width="110" height="145" fill="#3c3c3c"/>
<rect x="1235" y="955" width="70" height="105" fill="#6e6e6e"/>
<rect x="1250" y="965" width="40" height="60" fill="#c8c8c8"/>
<polygon fill="#000" points="1370,1120 1435,1120 1450,1210 1490,1210 1490,1240 1522,1245 1522,1300 1360,1295 1358,1240 1390,1240"/>
<rect x="22" y="35" width="366" height="65" rx="8" fill="#000"/>
<text x="37" y="78" font-size="40" font-weight="bold" fill="#fff" textLength="338" lengthAdjust="spacingAndGlyphs">WMG Count: 0</text>
</g>
</svg>
<rect x="979.5" y="904" width="750.5" height="747.5" fill="none" stroke="#000" stroke-width="2"/>
</svg>
</body></html>
